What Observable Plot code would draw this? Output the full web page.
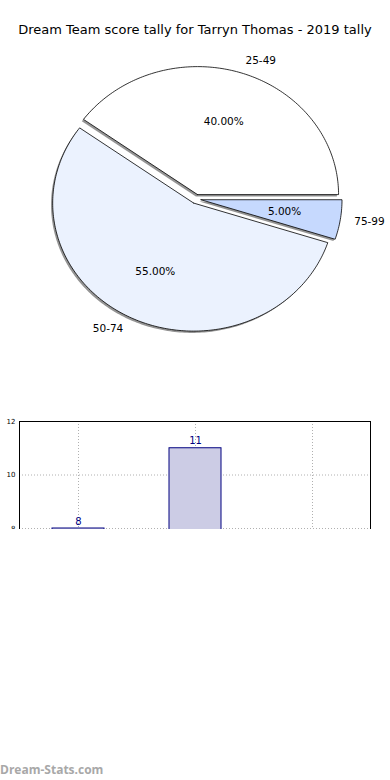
<!DOCTYPE html>
<html><head><meta charset="utf-8">
<script src="https://cdn.jsdelivr.net/npm/d3@7"></script>
<script src="https://cdn.jsdelivr.net/npm/@observablehq/plot@0.6"></script>
<style>
html,body{margin:0;padding:0;background:#fff;}
#root{position:relative;width:390px;height:780px;overflow:hidden;font-family:"DejaVu Sans",sans-serif;}
#title{position:absolute;left:0;top:21px;width:390px;text-align:center;font-size:13px;line-height:18px;color:#000;}
#pie{position:absolute;left:0;top:45px;width:390px;height:355px;}
#bars{position:absolute;left:0;top:400px;width:390px;height:129px;overflow:hidden;}
#wm{position:absolute;left:0;top:761px;font-family:"Open Sans",sans-serif;font-weight:bold;font-size:12px;color:#a8a8a8;}
</style></head><body>
<div id="root">
<div id="title">Dream Team score tally for Tarryn Thomas - 2019 tally</div>
<div id="pie"></div>
<div id="bars"></div>
<div id="wm">Dream-Stats.com</div>
</div>
<script>
const categories = ["25-49", "50-74", "75-99"];
const counts = [8, 11, 1];
const yTicks = [8, 10, 12];
const palette = ["#ffffff", "#ebf2fe", "#c6d9fe"];

const total = d3.sum(counts);
const explode = 0.036;
let acc = 0;
const slices = categories.map((c, i) => {
  const frac = counts[i] / total;
  const a0 = acc * 360; acc += frac; const a1 = acc * 360;
  const mid = (a0 + a1) / 2 * Math.PI / 180;
  return {cat: c, value: counts[i], frac, a0, a1, mid,
          dx: explode * Math.cos(mid), dy: explode * Math.sin(mid), color: palette[i]};
});

function wedge(s, ox, oy) {
  const cx = s.dx + ox, cy = s.dy + oy;
  const pts = [{x: cx, y: cy}];
  const n = Math.max(2, Math.ceil(s.a1 - s.a0));
  for (let k = 0; k <= n; k++) {
    const a = (s.a0 + (s.a1 - s.a0) * k / n) * Math.PI / 180;
    pts.push({x: cx + Math.cos(a), y: cy + Math.sin(a)});
  }
  pts.push({x: cx, y: cy});
  return pts;
}

const pieMarks = [];
for (const s of slices) {
  pieMarks.push(Plot.line(wedge(s, -0.012, -0.014), {x: "x", y: "y", fill: "#4d4d4d", fillOpacity: 0.6, stroke: "none"}));
  pieMarks.push(Plot.line(wedge(s, 0, 0), {x: "x", y: "y", fill: s.color, stroke: "#000", strokeWidth: 0.8}));
}
const labelPos = slices.map(s => ({...s, lx: s.dx + 1.1 * Math.cos(s.mid), ly: s.dy + 1.1 * Math.sin(s.mid),
  px: s.dx + 0.6 * Math.cos(s.mid), py: s.dy + 0.6 * Math.sin(s.mid)}));
pieMarks.push(Plot.text(labelPos.filter(d => Math.cos(d.mid) >= 0), {x: "lx", y: "ly", text: "cat", textAnchor: "start", fontSize: 10.5, fill: "#000"}));
pieMarks.push(Plot.text(labelPos.filter(d => Math.cos(d.mid) < 0), {x: "lx", y: "ly", text: "cat", textAnchor: "end", fontSize: 10.5, fill: "#000"}));
pieMarks.push(Plot.text(labelPos, {x: "px", y: "py", text: d => (d.frac * 100).toFixed(2) + "%", textAnchor: "middle", fontSize: 10.5, fill: "#000"}));

const pie = Plot.plot({
  width: 390, height: 355, margin: 0,
  style: {fontFamily: "DejaVu Sans", background: "transparent"},
  x: {domain: [-1, 1], range: [54.5, 336.5], axis: null},
  y: {domain: [-1, 1], range: [281.5, 25.5], axis: null},
  marks: pieMarks
});
document.getElementById("pie").appendChild(pie);

const bars = categories.map((c, i) => ({cat: c, value: counts[i]}));
const barChart = Plot.plot({
  width: 390, height: 372,
  marginLeft: 19, marginRight: 20, marginTop: 21, marginBottom: 30,
  style: {fontFamily: "DejaVu Sans", background: "transparent"},
  x: {domain: categories, paddingInner: 0.556, paddingOuter: 0.278, axis: null},
  y: {domain: [0, 12], axis: null},
  marks: [
    Plot.gridX(categories, {stroke: "#b0b0b0", strokeOpacity: 1, strokeDasharray: "1,2"}),
    Plot.gridY(yTicks, {stroke: "#b0b0b0", strokeOpacity: 1, strokeDasharray: "1,2"}),
    Plot.barY(bars, {x: "cat", y: "value", fill: "#ccccE5", stroke: "#000080", strokeWidth: 1}),
    Plot.text(bars, {x: "cat", y: "value", text: d => String(d.value), dy: -4, lineAnchor: "bottom", fill: "#000080", fontSize: 10}),
    Plot.axisY(yTicks, {anchor: "left", tickSize: 0, tickPadding: 4, fontSize: 7, fill: "#000", label: null}),
    Plot.frame({stroke: "#000"})
  ]
});
document.getElementById("bars").appendChild(barChart);
</script>
</body></html>
